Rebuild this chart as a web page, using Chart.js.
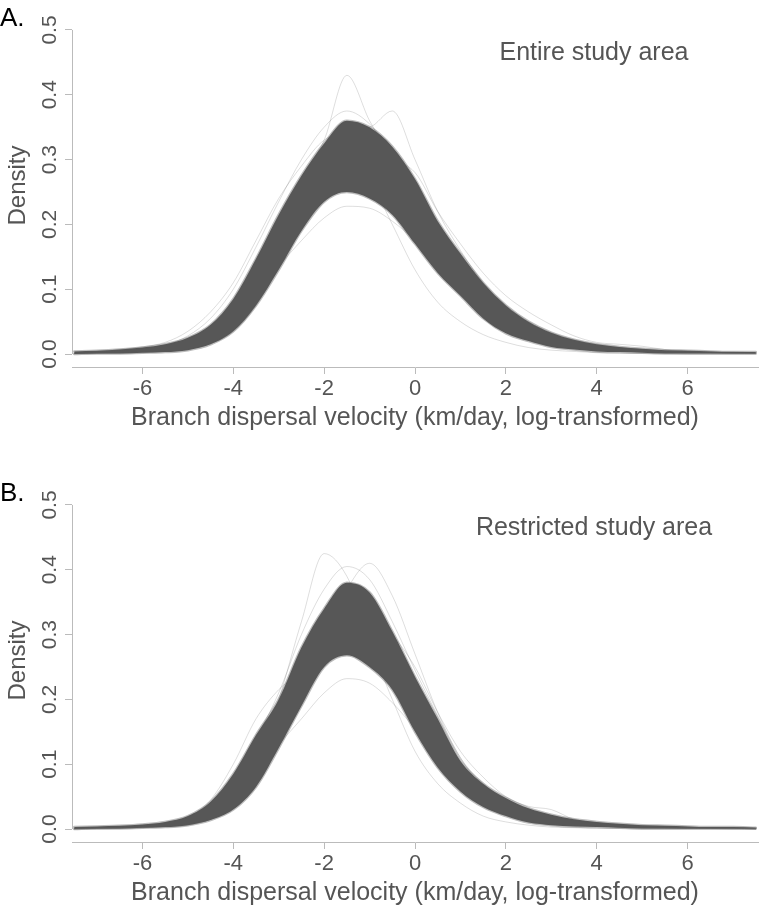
<!DOCTYPE html>
<html><head><meta charset="utf-8">
<script src="https://cdn.jsdelivr.net/npm/chart.js@4.4.1/dist/chart.umd.min.js"></script>
<style>
html,body{margin:0;padding:0;background:#fff;}
#wrap{position:relative;width:759px;height:907px;overflow:hidden;}
.pane{position:absolute;left:0;width:759px;}
</style></head><body>
<div id="wrap">
<div class="pane" style="top:0;height:475px"><canvas id="cA"></canvas></div>
<div class="pane" style="top:475px;height:432px"><canvas id="cB"></canvas></div>
</div>
<script>
// x grid (log-transformed branch dispersal velocity)
const xGrid = [-7.5,-7,-6.5,-6,-5.5,-5,-4.5,-4,-3.5,-3,-2.5,-2,-1.5,-1,-0.5,0,0.5,1,1.5,2,2.5,3,3.5,4,4.5,5,5.5,6,6.5,7,7.5];
const xTicks = [-6,-4,-2,0,2,4,6];
const xTickLabels = ["-6","-4","-2","0","2","4","6"];
const yTicks = [0,0.1,0.2,0.3,0.4,0.5];
const yTickLabels = ["0.0","0.1","0.2","0.3","0.4","0.5"];
const xTitle = "Branch dispersal velocity (km/day, log-transformed)";
const yTitle = "Density";

// Panel A: Entire study area — envelope of the dense bundle of posterior density curves
const aBandHi = [0.004,0.005,0.007,0.010,0.015,0.025,0.045,0.085,0.147,0.215,0.275,0.325,0.36,0.35,0.32,0.27,0.205,0.155,0.11,0.075,0.05,0.033,0.022,0.015,0.011,0.008,0.006,0.005,0.004,0.003,0.003];
const aBandLo = [0,0.001,0.001,0.002,0.003,0.006,0.015,0.035,0.075,0.13,0.19,0.235,0.25,0.24,0.215,0.17,0.125,0.09,0.055,0.032,0.02,0.011,0.007,0.004,0.003,0.002,0.001,0.001,0.001,0.001,0.001];
// Panel A: individual outlying curves
const aTall = [0.001,0.002,0.003,0.005,0.008,0.015,0.03,0.065,0.125,0.2,0.27,0.33,0.43,0.36,0.3,0.235,0.18,0.13,0.09,0.06,0.04,0.026,0.017,0.011,0.007,0.005,0.003,0.002,0.002,0.001,0.001];
const aBump = [0.001,0.002,0.003,0.004,0.007,0.012,0.025,0.055,0.11,0.18,0.245,0.3,0.345,0.35,0.375,0.3,0.22,0.16,0.11,0.075,0.05,0.033,0.022,0.015,0.01,0.007,0.005,0.004,0.003,0.002,0.002];
const aWideLeft = [0.002,0.004,0.007,0.011,0.018,0.035,0.065,0.11,0.175,0.24,0.29,0.33,0.34,0.32,0.28,0.23,0.175,0.13,0.09,0.06,0.04,0.027,0.018,0.012,0.008,0.006,0.004,0.003,0.002,0.002,0.001];
const aNarrowRight = [0,0.001,0.001,0.002,0.004,0.008,0.018,0.04,0.085,0.15,0.22,0.28,0.315,0.27,0.2,0.13,0.08,0.05,0.03,0.018,0.01,0.006,0.004,0.002,0.001,0.001,0.001,0,0,0,0];
const aHeavyRight = [0.001,0.001,0.002,0.003,0.005,0.008,0.016,0.035,0.075,0.135,0.2,0.26,0.3,0.31,0.3,0.28,0.22,0.17,0.125,0.09,0.065,0.045,0.028,0.018,0.015,0.012,0.007,0.005,0.004,0.003,0.002];
const aLow = [0.001,0.002,0.003,0.004,0.007,0.012,0.025,0.05,0.09,0.135,0.175,0.21,0.228,0.225,0.205,0.175,0.14,0.105,0.075,0.05,0.033,0.022,0.014,0.009,0.006,0.004,0.003,0.002,0.002,0.001,0.001];
const aHighLeft = [0.003,0.004,0.006,0.009,0.014,0.028,0.055,0.1,0.165,0.235,0.3,0.35,0.375,0.355,0.31,0.255,0.195,0.145,0.1,0.068,0.045,0.03,0.02,0.013,0.009,0.007,0.005,0.004,0.003,0.003,0.002];

// Panel B: Restricted study area
const bBandHi = [0.003,0.004,0.005,0.007,0.011,0.02,0.042,0.085,0.145,0.2,0.28,0.34,0.38,0.365,0.305,0.235,0.17,0.105,0.07,0.048,0.032,0.022,0.015,0.011,0.008,0.006,0.005,0.004,0.003,0.003,0.002];
const bBandLo = [0,0.001,0.001,0.002,0.003,0.006,0.014,0.03,0.065,0.125,0.19,0.25,0.268,0.25,0.215,0.15,0.095,0.058,0.034,0.02,0.01,0.006,0.004,0.003,0.002,0.001,0.001,0.001,0.001,0.001,0.001];
const bTallLeft = [0,0.001,0.002,0.003,0.005,0.01,0.022,0.05,0.11,0.2,0.32,0.425,0.39,0.3,0.225,0.16,0.11,0.07,0.045,0.03,0.02,0.013,0.008,0.005,0.003,0.002,0.002,0.001,0.001,0.001,0];
const bTallRight = [0,0.001,0.001,0.002,0.004,0.007,0.015,0.033,0.07,0.13,0.21,0.3,0.37,0.41,0.36,0.27,0.18,0.11,0.065,0.04,0.025,0.015,0.01,0.006,0.004,0.003,0.002,0.001,0.001,0.001,0];
const bLeftBump = [0.001,0.002,0.003,0.005,0.009,0.018,0.045,0.1,0.17,0.215,0.245,0.3,0.335,0.31,0.25,0.18,0.12,0.075,0.045,0.028,0.018,0.011,0.007,0.005,0.003,0.002,0.002,0.001,0.001,0.001,0];
const bLow = [0,0.001,0.002,0.003,0.005,0.01,0.022,0.045,0.085,0.13,0.17,0.21,0.232,0.225,0.195,0.155,0.115,0.08,0.052,0.033,0.02,0.012,0.007,0.004,0.003,0.002,0.001,0.001,0.001,0,0];
const bWideRight = [0.001,0.001,0.002,0.003,0.005,0.009,0.018,0.04,0.08,0.14,0.21,0.28,0.33,0.335,0.3,0.25,0.18,0.12,0.08,0.05,0.035,0.03,0.015,0.01,0.007,0.005,0.004,0.003,0.002,0.002,0.001];
const bNarrowRight = [0,0,0.001,0.002,0.003,0.006,0.015,0.035,0.075,0.14,0.22,0.29,0.3,0.28,0.2,0.12,0.07,0.04,0.02,0.011,0.006,0.003,0.002,0.001,0.001,0,0,0,0,0,0];
const bHighMid = [0.002,0.003,0.004,0.006,0.01,0.018,0.04,0.08,0.14,0.21,0.3,0.37,0.405,0.385,0.32,0.245,0.175,0.11,0.07,0.045,0.03,0.02,0.013,0.009,0.006,0.005,0.004,0.003,0.002,0.002,0.001];

const FONT = "'Liberation Sans', Arial, Helvetica, sans-serif";
const TXT = '#555555';
const AXC = '#bbbbbb';
const BAND = '#575757';

function pts(arr){ return arr.map((v,i)=>({x:xGrid[i], y:v})); }

function makeChart(id, H, letter, label, band, lines){
  const ds = [];
  // band first so it is drawn on top of the faint individual curves
  ds.push({data:pts(band[1]), borderColor:'rgba(87,87,87,0.4)', borderWidth:2.5, pointRadius:0, fill:false, cubicInterpolationMode:'monotone'});
  ds.push({data:pts(band[0]), borderColor:'rgba(87,87,87,0.4)', borderWidth:2.5, pointRadius:0, fill:{target:0}, backgroundColor:BAND, cubicInterpolationMode:'monotone'});
  lines.forEach(l=>ds.push({data:pts(l), borderColor:'rgba(0,0,0,0.17)', borderWidth:0.8, pointRadius:0, fill:false, cubicInterpolationMode:'monotone'}));

  const deco = {
    id:'deco'+id,
    afterDraw(chart){
      const ctx = chart.ctx, xs = chart.scales.x, ys = chart.scales.y;
      ctx.save();
      // y axis line from 0 to 0.5
      ctx.strokeStyle = AXC; ctx.lineWidth = 1;
      const ax = Math.round(xs.left) + 0.5;
      ctx.beginPath(); ctx.moveTo(ax, ys.getPixelForValue(yTicks[0])); ctx.lineTo(ax, ys.getPixelForValue(yTicks[yTicks.length-1])); ctx.stroke();
      // y tick labels, rotated
      ctx.fillStyle = TXT; ctx.font = '21px ' + FONT; ctx.textAlign = 'center'; ctx.textBaseline = 'middle';
      yTicks.forEach((v,i)=>{
        ctx.save(); ctx.translate(50, ys.getPixelForValue(v)); ctx.rotate(-Math.PI/2);
        ctx.fillText(yTickLabels[i], 0, 0); ctx.restore();
      });
      // y title
      ctx.font = '24px ' + FONT;
      ctx.save(); ctx.translate(18, ys.getPixelForValue(0.26)); ctx.rotate(-Math.PI/2); ctx.fillText(yTitle, 0, 0); ctx.restore();
      // x title
      ctx.font = '25px ' + FONT; ctx.textBaseline = 'middle';
      ctx.fillText(xTitle, (xs.left+xs.right)/2, 418);
      // panel label
      ctx.fillStyle = '#000'; ctx.font = '26px ' + FONT; ctx.textAlign = 'left'; ctx.textBaseline = 'alphabetic';
      ctx.fillText(letter, 0, 26);
      // annotation
      ctx.fillStyle = TXT; ctx.font = '25px ' + FONT; ctx.textAlign = 'center'; ctx.textBaseline = 'middle';
      ctx.fillText(label, 594, 53);
      ctx.restore();
    }
  };

  return new Chart(document.getElementById(id), {
    type:'line',
    data:{datasets:ds},
    options:{
      responsive:true, maintainAspectRatio:false, animation:false, devicePixelRatio:1,
      layout:{padding:{left:0,right:1,top:17,bottom:0}},
      plugins:{legend:{display:false}, tooltip:{enabled:false}},
      elements:{line:{borderCapStyle:'round'}},
      scales:{
        x:{type:'linear', min:-7.55, max:7.55,
          afterBuildTicks:(s)=>{ s.ticks = xTicks.map(v=>({value:v})); },
          afterFit:(s)=>{ s.height = H - 367; },
          ticks:{autoSkip:false, maxRotation:0, minRotation:0, padding:2, color:TXT, font:{family:FONT, size:22},
            callback:(v)=>{ const k = xTicks.indexOf(v); return k>=0 ? xTickLabels[k] : ''; }},
          grid:{drawOnChartArea:false, drawTicks:true, tickLength:7, color:AXC, lineWidth:1},
          border:{display:true, color:AXC, width:1}
        },
        y:{type:'linear', min:-0.02, max:0.52,
          afterBuildTicks:(s)=>{ s.ticks = yTicks.map(v=>({value:v})); },
          afterFit:(s)=>{ s.width = 72; },
          ticks:{display:false},
          grid:{drawOnChartArea:false, drawTicks:true, tickLength:7, color:AXC, lineWidth:1},
          border:{display:false}
        }
      }
    },
    plugins:[deco]
  });
}

makeChart('cA', 475, 'A.', 'Entire study area', [aBandHi, aBandLo], [aTall, aBump, aWideLeft, aNarrowRight, aHeavyRight, aLow, aHighLeft]);
makeChart('cB', 432, 'B.', 'Restricted study area', [bBandHi, bBandLo], [bTallLeft, bTallRight, bLeftBump, bLow, bWideRight, bNarrowRight, bHighMid]);
</script>
</body></html>
